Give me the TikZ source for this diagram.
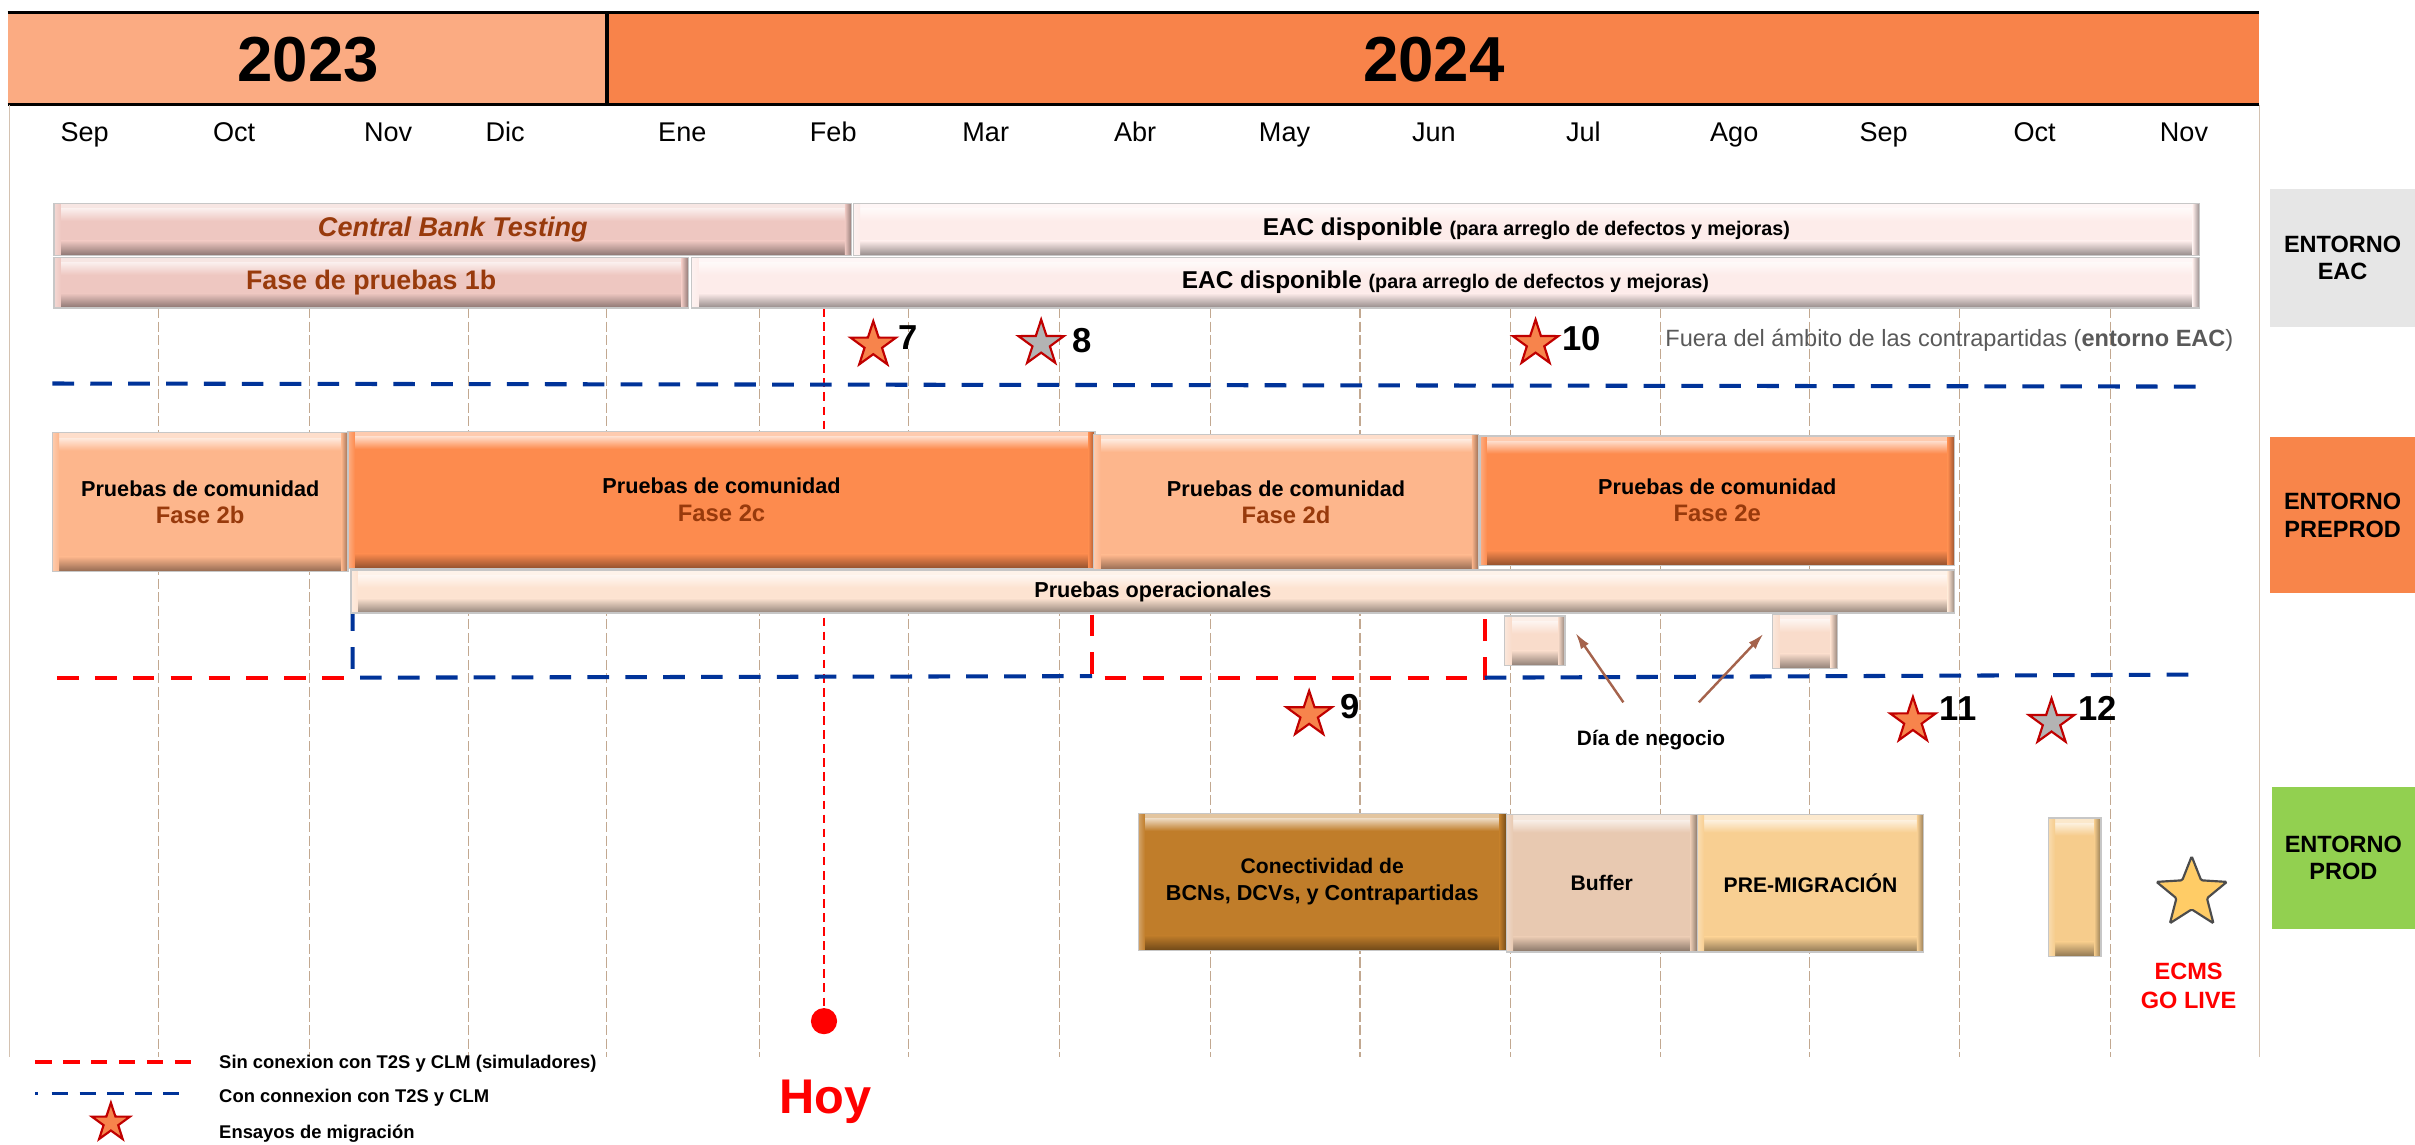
\documentclass[tikz,border=0pt]{standalone}
\usepackage{fontspec}
\setmainfont{Liberation Sans}
\usetikzlibrary{shapes.geometric,arrows.meta}

\definecolor{hdrA}{HTML}{FBAB82}
\definecolor{hdrB}{HTML}{F8834A}
\definecolor{cbtC}{HTML}{EEC7C1}
\definecolor{eacC}{HTML}{FDECEA}
\definecolor{brownT}{HTML}{983A0C}
\definecolor{lightO}{HTML}{FDB68C}
\definecolor{darkO}{HTML}{FD8B4E}
\definecolor{operC}{HTML}{FDE3D1}
\definecolor{dayC}{HTML}{F9DCCB}
\definecolor{conC}{HTML}{C07D2A}
\definecolor{bufC}{HTML}{E8C9B1}
\definecolor{preC}{HTML}{F8CF92}
\definecolor{tallC}{HTML}{F6CC8C}
\definecolor{envGrey}{HTML}{E6E6E6}
\definecolor{envOr}{HTML}{F8854A}
\definecolor{envGr}{HTML}{92D050}
\definecolor{starO}{HTML}{F7844C}
\definecolor{starR}{HTML}{C00000}
\definecolor{starG}{HTML}{B3B3B3}
\definecolor{goldC}{HTML}{FFCC66}
\definecolor{gridC}{HTML}{C2A890}
\definecolor{blueD}{HTML}{003399}
\definecolor{arrC}{HTML}{A5634C}
\definecolor{fueraC}{HTML}{595959}

\newcommand\fsz[2]{\fontsize{#1}{#2}\selectfont}
\newcommand\bbox[7]{%
  \node[bev=#6, minimum width={(#4-#2)*0.02cm}, minimum height={(#5-#3)*0.02cm}] (#1) at ({(#2+#4)/2},{(#3+#5)/2}) {#7};}
\newcommand\ebox[7]{%
  \node[envbox, fill=#6, minimum width={(#4-#2)*0.02cm}, minimum height={(#5-#3)*0.02cm}] (#1) at ({(#2+#4)/2},{(#3+#5)/2}) {#7};}

\tikzset{
  bev/.style={draw=black!22, line width=0.5pt, fill=#1, inner sep=1pt, outer sep=0pt, align=center,
    font=\bfseries\fsz{8}{10},
    path picture={
      \fill[#1!45!white] (path picture bounding box.north west) rectangle ([yshift=-2pt]path picture bounding box.north east);
      \shade[top color=#1!30!white, bottom color=#1] ([yshift=-2pt]path picture bounding box.north west) rectangle ([yshift=-6.5pt]path picture bounding box.north east);
      \shade[top color=#1, bottom color=#1!58!black] ([yshift=5.5pt]path picture bounding box.south west) rectangle (path picture bounding box.south east);
      \shade[left color=#1!70!white, right color=#1] (path picture bounding box.north west) rectangle ([xshift=2.5pt]path picture bounding box.south west);
      \shade[left color=#1, right color=#1!60!black] ([xshift=-2.5pt]path picture bounding box.north east) rectangle (path picture bounding box.south east);
    }},
  envbox/.style={inner sep=0pt, outer sep=0pt, align=center, font=\bfseries\fsz{8.7}{10.2}},
  month/.style={anchor=base, font=\fsz{10}{12}},
  year/.style={anchor=base, font=\bfseries\fsz{23.5}{26}},
  num/.style={anchor=west, inner sep=0pt, font=\bfseries\fsz{12.8}{14}},
  starbase/.style={star, star points=5, star point ratio=2.6, minimum size=31*0.02cm, inner sep=0pt, line width=0.8pt, draw=starR},
  starorange/.style={starbase, fill=starO},
  stargrey/.style={starbase, fill=starG},
  gridline/.style={draw=gridC, line width=0.4pt, dash pattern=on 3.7pt off 1.3pt},
  sideline/.style={draw=gridC!70, line width=0.5pt},
  redd/.style={draw=red, line width=1.5pt, dash pattern=on 8pt off 6pt},
  blued/.style={draw=blueD, line width=1.5pt, dash pattern=on 8pt off 6pt},
  redleg/.style={draw=red, line width=1.2pt, dash pattern=on 6pt off 4.3pt},
  blueleg/.style={draw=blueD, line width=1.2pt, dash pattern=on 1pt off 5pt on 6pt off 4.3pt on 6pt off 4.3pt on 6pt off 4.3pt on 6pt off 4.3pt on 6pt off 4.3pt},
  hoyline/.style={draw=red, line width=0.8pt, dash pattern=on 3.2pt off 2pt},
  arr/.style={draw=arrC, line width=0.9pt, -{Latex[length=6pt,width=3.5pt]}},
  legtext/.style={anchor=base west, inner sep=0pt, font=\bfseries\fsz{6.8}{8}},
}

\begin{document}
\begin{tikzpicture}[x=0.02cm, y=-0.02cm]
\useasboundingbox (0,0) rectangle (1568,742.8);

% header
\fill[hdrA] (5,8) rectangle (394,68);
\fill[hdrB] (394,8) rectangle (1467,68);
\draw[line width=1.3pt] (5,8) -- (1467,8) (5,68) -- (1467,68) (394,8) -- (394,68);
\node[year] (y2023) at (200,53) {2023};
\node[year] (y2024) at (931,53) {2024};

% months
\foreach \x/\m [count=\i] in {55/Sep,152/Oct,252/Nov,328/Dic,443/Ene,541/Feb,640/Mar,737/Abr,834/May,931/Jun,1028/Jul,1126/Ago,1223/Sep,1321/Oct,1418/Nov}
  \node[month] (m\i) at (\x,92) {\m};

% grid
\foreach \x in {103,201,304,394,493,590,688,786,883,981,1078,1175,1272,1370}
  \draw[gridline] (\x,200) -- (\x,686);
\draw[sideline] (6,68) -- (6,686) (1467,68) -- (1467,686);

% Hoy line
\node[circle, fill=red, minimum size=17*0.02cm, inner sep=0pt] (hoydot) at (535,663) {};
\coordinate (hoytop) at (535,200);
\draw[hoyline] (hoytop) -- (hoydot.north);
\node[anchor=base, text=red, font=\bfseries\fsz{18}{20}] (hoy) at (536,723) {Hoy};

% EAC rows
\bbox{cbt}{35}{132}{553}{166}{cbtC}{\color{brownT}\fsz{10}{11}\bfseries\itshape Central Bank Testing}
\bbox{eac1}{554}{132}{1428}{166}{eacC}{\fsz{9}{10}EAC disponible {\fsz{7.3}{8}(para arreglo de defectos y mejoras)}}
\bbox{f1b}{35}{167}{447}{200}{cbtC}{\color{brownT}\fsz{9.9}{11}Fase de pruebas 1b}
\bbox{eac2}{449}{167}{1428}{200}{eacC}{\fsz{9}{10}EAC disponible {\fsz{7.3}{8}(para arreglo de defectos y mejoras)}}

\draw[blued] (34,249) -- (1429,251);

\node[starorange] (st7) at (567,224) {};
\node[num] (n7) at (583,219) {7};
\node[stargrey] (st8) at (676,223) {};
\node[num] (n8) at (696,221) {8};
\node[starorange] (st10) at (997,223) {};
\node[num] (n10) at (1014,220) {10};
\node[anchor=base west, inner sep=0pt, text=fueraC, font=\fsz{8.7}{10}] (fuera) at (1081,225) {Fuera del ámbito de las contrapartidas (\textbf{entorno EAC})};

% PREPROD lines
\draw[redd] (37,440) -- (227,440);
\draw[blued] (229,371) -- (229,440) -- (709,439);
\draw[redd] (709,399) -- (709,440) -- (964,440) -- (964,399);
\draw[blued] (964,440) -- (1423,438);

% PREPROD boxes
\bbox{f2b}{34}{281}{226}{371}{lightO}{Pruebas de comunidad\\{\fsz{8.8}{10}\color{brownT}Fase 2b}}
\bbox{f2c}{226}{280}{711}{369}{darkO}{Pruebas de comunidad\\{\fsz{8.8}{10}\color{brownT}Fase 2c}}
\bbox{f2d}{710}{282}{960}{370}{lightO}{Pruebas de comunidad\\{\fsz{8.8}{10}\color{brownT}Fase 2d}}
\bbox{f2e}{961}{283}{1269}{367}{darkO}{Pruebas de comunidad\\{\fsz{8.8}{10}\color{brownT}Fase 2e}}
\bbox{oper}{228}{370}{1269}{398}{operC}{Pruebas operacionales}
\bbox{dn1}{977}{400}{1016}{432}{dayC}{}
\bbox{dn2}{1151}{399}{1193}{434}{dayC}{}

\node[anchor=base, inner sep=0pt, font=\bfseries\fsz{7.7}{9}] (dia) at (1072,484) {Día de negocio};
\coordinate (a1s) at (1054,456);
\coordinate (a2s) at (1103,456);
\draw[arr] (a1s) -- ([xshift=7*0.02cm, yshift=5*0.02cm]dn1.east);
\draw[arr] (a2s) -- ([xshift=-6*0.02cm, yshift=5*0.02cm]dn2.west);

\node[starorange] (st9) at (850,464) {};
\node[num] (n9) at (870,459) {9};
\node[starorange] (st11) at (1242,468) {};
\node[num] (n11) at (1259,460) {11};
\node[stargrey] (st12) at (1332,469) {};
\node[num] (n12) at (1349,460) {12};

% PROD boxes
\bbox{con}{739}{528}{978}{617}{conC}{\fsz{7.8}{10}Conectividad de\\BCNs, DCVs, y Contrapartidas}
\bbox{buf}{978}{529}{1102}{618}{bufC}{\fsz{7.8}{10}Buffer}
\bbox{pre}{1102}{529}{1249}{618}{preC}{\fsz{7.8}{10}PRE-MIGRACIÓN}
\bbox{tall}{1330}{531}{1364}{621}{tallC}{}
\node[star, star points=5, star point ratio=2.3, minimum size=48*0.02cm, inner sep=0pt, fill=goldC, draw=black!70, line width=0.8pt, rounded corners=0.5pt] (gold) at (1423,580) {};
\node[align=center, text=red, font=\bfseries\fsz{8.7}{10.8}] (golive) at (1421,640) {ECMS\\GO LIVE};

% environment labels
\ebox{envEAC}{1474}{123}{1568}{212}{envGrey}{ENTORNO\\EAC}
\ebox{envPRE}{1474}{284}{1568}{385}{envOr}{ENTORNO\\PREPROD}
\ebox{envPROD}{1475}{511}{1568}{603}{envGr}{ENTORNO\\PROD}

% legend
\draw[redleg] (23,689.5) -- (124,689.5);
\draw[blueleg] (23,710) -- (124,710);
\node[starorange, minimum size=26*0.02cm] (legstar) at (72,729) {};
\node[legtext] (leg1) at (142,693.5) {Sin conexion con T2S y CLM (simuladores)};
\node[legtext] (leg2) at (142,716) {Con connexion con T2S y CLM};
\node[legtext] (leg3) at (142,739.5) {Ensayos de migración};
\end{tikzpicture}
\end{document}
